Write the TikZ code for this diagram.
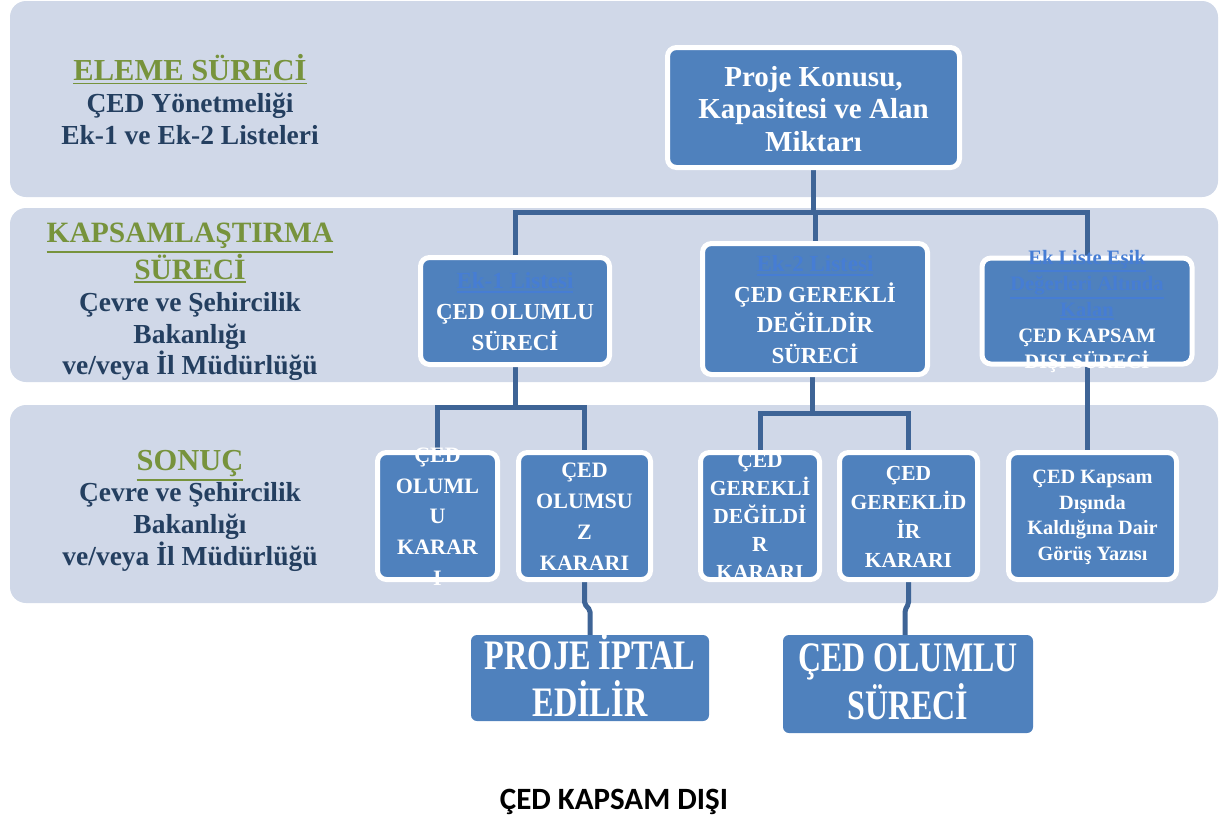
\documentclass[tikz,border=0pt]{standalone}
\usepackage{fontspec}
\usepackage{graphicx}
\setmainfont{Liberation Serif}
\newfontfamily\tallserif{Liberation Serif}
\newfontfamily\calib{Carlito}
\definecolor{bandc}{RGB}{208,216,232}
\definecolor{boxc}{RGB}{79,129,189}
\definecolor{linec}{RGB}{62,100,150}
\definecolor{greenc}{RGB}{119,147,60}
\definecolor{navyc}{RGB}{36,63,96}
\definecolor{linkc}{RGB}{70,125,212}
\newcommand{\fsz}[2]{\fontsize{#1}{#2}\selectfont}
\newcommand{\ulx}[1]{\leavevmode\vtop{\hbox{#1}\kern2.2pt\hrule height 1.8pt}}
\newcommand{\lnk}[1]{\textcolor{linkc}{\ulx{#1}}}
\pgfdeclarelayer{bandlayer}
\pgfdeclarelayer{connlayer}
\pgfsetlayers{bandlayer,connlayer,main}
\tikzset{
  band/.style={fill=bandc, rounded corners=16pt},
  box/.style={draw=white, line width=5pt, fill=boxc, rounded corners=9pt, inner sep=0pt},
  bigbox/.style={fill=boxc, rounded corners=6pt, inner sep=0pt},
  btxt/.style={text=white, align=center, font=\bfseries, inner sep=0pt},
  conn/.style={draw=linec, line width=5pt},
  lab/.style={anchor=base, inner sep=0pt, font=\bfseries},
  hdr/.style={lab, text=greenc},
  sub/.style={lab, text=navyc}
}
\begin{document}
\begin{tikzpicture}[x=1pt, y=-1pt]
\useasboundingbox (0,0) rectangle (1219,825);
\begin{pgfonlayer}{bandlayer}
  \fill[band] (10,1) rectangle (1218,197);
  \fill[band] (10,208) rectangle (1218,382);
  \fill[band] (10,405) rectangle (1218,603);
\end{pgfonlayer}

% left labels
\node[hdr, font=\bfseries\fsz{30.5}{32}] (l1a) at (190,80) {\ulx{ELEME SÜRECİ}};
\node[sub, font=\bfseries\fsz{27.5}{30}] (l1b) at (190,112.5) {ÇED Yönetmeliği};
\node[sub, font=\bfseries\fsz{27.5}{30}] (l1c) at (190,144) {Ek-1 ve Ek-2 Listeleri};

\node[hdr, font=\bfseries\fsz{29.5}{32}] (l2a) at (190,242.5) {\ulx{KAPSAMLAŞTIRMA}};
\node[hdr, font=\bfseries\fsz{29.5}{32}] (l2b) at (190,279) {\ulx{SÜRECİ}};
\node[sub, font=\bfseries\fsz{27.5}{30}] (l2c) at (190,311.5) {Çevre ve Şehircilik};
\node[sub, font=\bfseries\fsz{27.5}{30}] (l2d) at (190,343) {Bakanlığı};
\node[sub, font=\bfseries\fsz{27.5}{30}] (l2e) at (190,374) {ve/veya İl Müdürlüğü};

\node[hdr, font=\bfseries\fsz{30.5}{32}] (l3a) at (190,470.5) {\ulx{SONUÇ}};
\node[sub, font=\bfseries\fsz{27.5}{30}] (l3b) at (190,501.5) {Çevre ve Şehircilik};
\node[sub, font=\bfseries\fsz{27.5}{30}] (l3c) at (190,533) {Bakanlığı};
\node[sub, font=\bfseries\fsz{27.5}{30}] (l3d) at (190,565) {ve/veya İl Müdürlüğü};

% boxes
\node[box, minimum width=292pt, minimum height=120pt] (top) at (813.5,107.5) {};
\node[box, minimum width=189pt, minimum height=107pt] (ek1) at (515,311) {};
\node[box, minimum width=225pt, minimum height=131pt] (ek2) at (815,309) {};
\node[box, minimum width=210pt, minimum height=106pt] (ek3) at (1087,311) {};
\node[box, minimum width=120pt, minimum height=127pt] (c1) at (437.5,516) {};
\node[box, minimum width=132pt, minimum height=127pt] (c2) at (584.5,516) {};
\node[box, minimum width=119pt, minimum height=127pt] (c3) at (760,516) {};
\node[box, minimum width=138pt, minimum height=127pt] (c4) at (908.5,516) {};
\node[box, minimum width=168pt, minimum height=127pt] (c5) at (1092.5,516) {};
\node[bigbox, minimum width=238pt, minimum height=86pt] (proje) at (590,678) {};
\node[bigbox, minimum width=250pt, minimum height=98pt] (olumlu) at (908,684) {};

% connectors
\coordinate (h1) at (0,212);
\coordinate (h2) at (0,407);
\coordinate (h3) at (0,413);
\coordinate (j) at (0,610);
\begin{pgfonlayer}{connlayer}
  \draw[conn] (top.south) -- (top.south |- h1);
  \draw[conn] (ek1.north) -- (ek1.north |- h1) -- (ek3.north |- h1) -- (ek3.north);
  \draw[conn] (ek2.north) -- (ek2.north |- h1);
  \draw[conn] (ek1.south) -- (ek1.south |- h2);
  \draw[conn] (c1.north) -- (c1.north |- h2) -- (c2.north |- h2) -- (c2.north);
  \draw[conn] ([xshift=-3pt]ek2.south) -- ([xshift=-3pt]ek2.south |- h3);
  \draw[conn] (c3.north) -- (c3.north |- h3) -- (c4.north |- h3) -- (c4.north);
  \draw[conn] (ek3.south) -- (ek3.south |- c5.north);
  \draw[conn, rounded corners=2pt] (c2.south) -- ++(0,22) -- (proje.north |- j) -- (proje.north);
  \draw[conn, rounded corners=2pt] (c4.south) -- ++(0,22) -- ([xshift=-3pt]olumlu.north |- j) -- ([xshift=-3pt]olumlu.north);
\end{pgfonlayer}

% box texts
\node[btxt, font=\bfseries\fsz{29}{32.5}] (ttop) at (813.5,109) {Proje Konusu,\\Kapasitesi ve Alan\\Miktarı};
\node[btxt, font=\bfseries\fsz{23}{31}] (tek1) at (515,312) {\lnk{Ek-1 Listesi}\\ÇED OLUMLU\\SÜRECİ};
\node[btxt, font=\bfseries\fsz{23}{30.7}] (tek2) at (815,309.5) {\lnk{Ek-2 Listesi}\\ÇED GEREKLİ\\DEĞİLDİR\\SÜRECİ};
\node[btxt, font=\bfseries\fsz{20.5}{26}] (tek3) at (1087,311) {\lnk{Ek Liste Eşik}\\\lnk{Değerleri Altında}\\\lnk{Kalan}\\ÇED KAPSAM\\DIŞI SÜRECİ};
\node[btxt, font=\bfseries\fsz{22}{30.75}] (tc1) at (437.5,516.5) {ÇED\\OLUML\\U\\KARAR\\I};
\node[btxt, font=\bfseries\fsz{22}{31}] (tc2) at (584.5,517) {ÇED\\OLUMSU\\Z\\KARARI};
\begin{scope}
  \clip (c3.north west) ++(-3,-3) rectangle ([xshift=3pt,yshift=-2.5pt]c3.south east);
  \node[btxt, font=\bfseries\fsz{21.5}{28}] (tc3) at (760,516) {ÇED\\GEREKLİ\\DEĞİLDİ\\R\\KARARI};
\end{scope}
\node[btxt, font=\bfseries\fsz{21.5}{29}] (tc4) at (908.5,516.5) {ÇED\\GEREKLİD\\İR\\KARARI};
\node[btxt, font=\bfseries\fsz{20.3}{25.7}] (tc5) at (1092.5,517.5) {ÇED Kapsam\\Dışında\\Kaldığına Dair\\Görüş Yazısı};
\node[inner sep=0pt, text=white] (tproje) at (590,681) {\scalebox{0.77}[1]{\tallserif\bfseries\fsz{42}{40}\begin{tabular}{@{}c@{}}PROJE İPTAL\\EDİLİR\end{tabular}}};
\node[inner sep=0pt, text=white] (tolumlu) at (908,687) {\scalebox{0.76}[1]{\tallserif\bfseries\fsz{42}{42}\begin{tabular}{@{}c@{}}ÇED OLUMLU\\SÜRECİ\end{tabular}}};

\node[anchor=base, inner sep=0pt, font=\calib\bfseries\fsz{31}{34}] (foot) at (614,809) {ÇED KAPSAM DIŞI};
\end{tikzpicture}
\end{document}
